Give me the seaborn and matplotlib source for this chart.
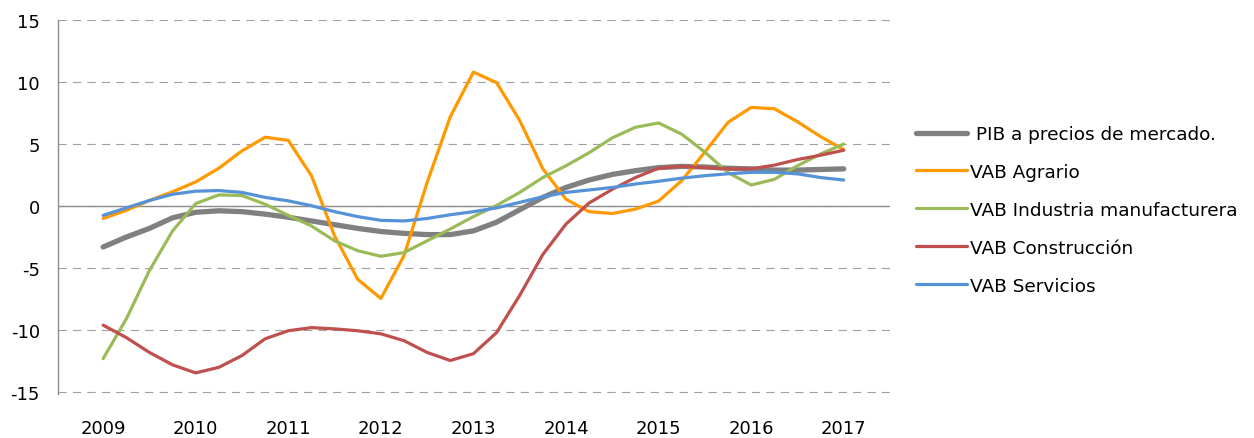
import pandas as pd
import numpy as np
import matplotlib
matplotlib.use("Agg")
import matplotlib.pyplot as plt
import seaborn as sns

# Quarterly series, 2009Q1 .. 2017Q1
years = ["2009", "2010", "2011", "2012", "2013", "2014", "2015", "2016", "2017"]

pib = [-3.3, -2.5, -1.8, -0.95, -0.5, -0.38, -0.45, -0.65, -0.9, -1.2, -1.5,
       -1.8, -2.05, -2.2, -2.3, -2.3, -2.0, -1.3, -0.3, 0.7, 1.5, 2.1, 2.55,
       2.85, 3.1, 3.2, 3.15, 3.05, 3.0, 2.9, 2.9, 2.95, 3.0]
agrario = [-1.0, -0.35, 0.45, 1.15, 1.95, 3.05, 4.45, 5.55, 5.3, 2.45, -2.4,
           -5.9, -7.45, -4.0, 1.9, 7.2, 10.8, 9.95, 6.9, 3.0, 0.55, -0.45,
           -0.6, -0.25, 0.4, 2.05, 4.35, 6.75, 7.95, 7.85, 6.8, 5.6, 4.55]
industria = [-12.3, -9.1, -5.2, -2.0, 0.2, 0.9, 0.85, 0.15, -0.75, -1.6, -2.8,
             -3.6, -4.05, -3.75, -2.8, -1.85, -0.85, 0.05, 1.1, 2.3, 3.25, 4.3,
             5.5, 6.35, 6.7, 5.8, 4.35, 2.7, 1.7, 2.15, 3.25, 4.2, 5.0]
construccion = [-9.6, -10.6, -11.8, -12.8, -13.45, -13.0, -12.05, -10.7,
                -10.05, -9.8, -9.9, -10.05, -10.3, -10.85, -11.8, -12.45,
                -11.9, -10.2, -7.2, -3.9, -1.45, 0.25, 1.35, 2.3, 3.05, 3.2,
                3.1, 3.0, 3.0, 3.3, 3.75, 4.1, 4.5]
servicios = [-0.75, -0.15, 0.45, 0.95, 1.2, 1.25, 1.1, 0.7, 0.42, 0.03, -0.45,
             -0.85, -1.15, -1.2, -1.0, -0.7, -0.45, -0.15, 0.3, 0.75, 1.1, 1.3,
             1.5, 1.78, 2.0, 2.25, 2.45, 2.6, 2.72, 2.72, 2.6, 2.3, 2.1]

series = [
    (" PIB a precios de mercado.", pib, "#808080", 3.8),
    ("VAB Agrario", agrario, "#FF9900", 2.3),
    ("VAB Industria manufacturera", industria, "#9BBB59", 2.3),
    ("VAB Construcción", construccion, "#C0504D", 2.3),
    ("VAB Servicios", servicios, "#5592D8", 2.3),
]

sns.set_style("white")
plt.rcParams["font.family"] = ["DejaVu Sans"]
plt.rcParams["text.color"] = "black"
plt.rcParams["axes.unicode_minus"] = False

quarter = np.arange(len(pib))

fig = plt.figure(figsize=(12.54, 4.39), dpi=100)
ax = fig.add_axes([58 / 1254, 1 - 395 / 439, (890 - 58) / 1254, (395 - 21) / 439])

handles = []
for name, vals, color, lw in series:
    sns.lineplot(x=quarter, y=vals, ax=ax, color=color, linewidth=lw,
                 label=name, solid_capstyle="round", solid_joinstyle="round")
    handles.append(ax.lines[-1])
ax.get_legend().remove()

ax.set_ylim(-15.15, 15)
ax.set_yticks(range(-15, 16, 5))
ax.set_xlim(-1.95, 34)
ax.set_xticks(quarter[::4], years)
ax.yaxis.grid(True, linestyle=(0, (7.5, 5.5)), color="#A0A0A0", linewidth=0.8)
ax.set_axisbelow(True)
ax.axhline(0, color="#8C8C8C", linewidth=1.0, zorder=1)

for s in ["top", "right", "bottom"]:
    ax.spines[s].set_visible(False)
ax.spines["left"].set_color("#8C8C8C")
ax.spines["left"].set_linewidth(1.0)

ax.tick_params(axis="both", length=0, labelsize=13, colors="black")
ax.tick_params(axis="y", pad=13)
ax.tick_params(axis="x", pad=18)
ax.set_xlabel("")
ax.set_ylabel("")

fig.legend(handles, [s[0] for s in series], loc="upper left",
           bbox_to_anchor=(916 / 1254, 1 - 126 / 439), frameon=False,
           fontsize=13.3, handlelength=2.75, handletextpad=0.15,
           labelspacing=1.08, borderpad=0, borderaxespad=0,
           labelcolor="black")

fig.savefig("out.png", dpi=100)
